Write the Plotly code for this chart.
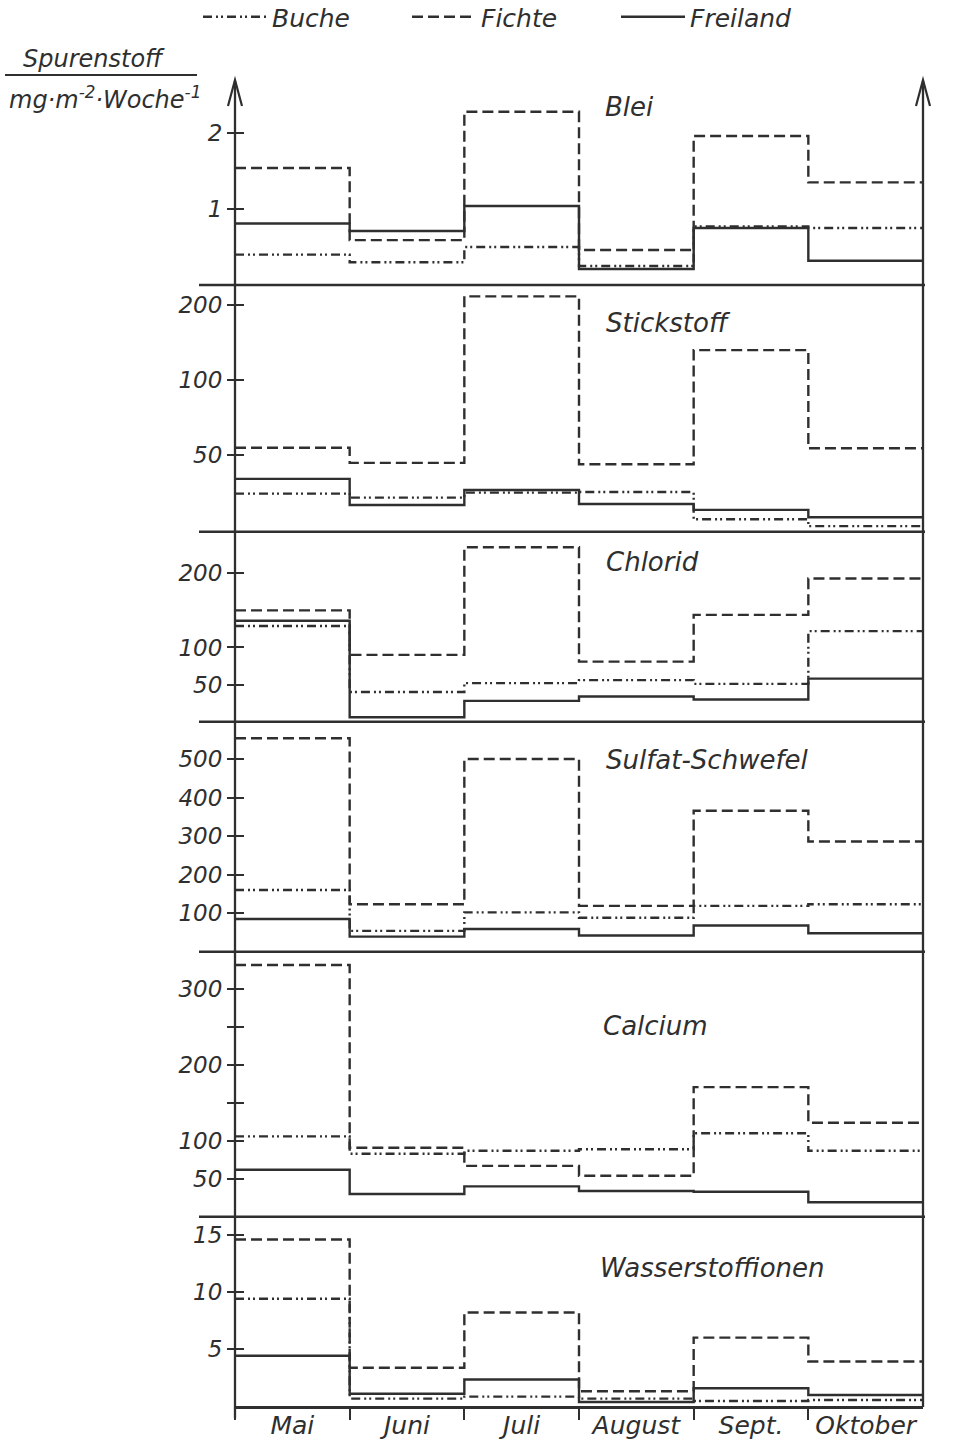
import math
import plotly.graph_objects as go

# ---------------- data ----------------
months = ["Mai", "Juni", "Juli", "August", "Sept.", "Oktober"]
series_names = ["Buche", "Fichte", "Freiland"]
panel_titles = ["Blei", "Stickstoff", "Chlorid", "Sulfat-Schwefel", "Calcium", "Wasserstoffionen"]

blei_buche = [0.40, 0.30, 0.50, 0.25, 0.77, 0.75]
blei_fichte = [1.54, 0.59, 2.28, 0.46, 1.96, 1.35]
blei_freiland = [0.81, 0.71, 1.04, 0.21, 0.75, 0.32]

stick_buche = [35.0, 33.7, 35.3, 35.5, 27.6, 25.9]
stick_fichte = [53.5, 46.5, 217, 45.9, 132, 53.2]
stick_freiland = [40.1, 31.5, 36.2, 31.8, 30.1, 28.1]

chlor_buche = [129, 40, 52, 56, 51, 122]
chlor_fichte = [150, 90, 235, 81, 144, 193]
chlor_freiland = [136, 6, 28, 34, 30, 58]

sulf_buche = [160, 54, 102, 88, 119, 123]
sulf_fichte = [554, 123, 500, 119, 366, 286]
sulf_freiland = [85, 39, 59, 42, 68, 48]

calc_buche = [106, 83, 87, 89, 110, 87]
calc_fichte = [332, 91, 67, 54, 171, 124]
calc_freiland = [62, 30, 40, 34, 33, 19]

wass_buche = [9.4, 0.65, 0.82, 0.65, 0.44, 0.52]
wass_fichte = [14.6, 3.36, 8.2, 1.3, 6.0, 3.9]
wass_freiland = [4.4, 1.08, 2.33, 0.35, 1.55, 0.96]

panel_data = [
    (blei_buche, blei_fichte, blei_freiland),
    (stick_buche, stick_fichte, stick_freiland),
    (chlor_buche, chlor_fichte, chlor_freiland),
    (sulf_buche, sulf_fichte, sulf_freiland),
    (calc_buche, calc_fichte, calc_freiland),
    (wass_buche, wass_fichte, wass_freiland),
]

tick_vals = [
    [1, 2],
    [50, 100, 200],
    [50, 100, 200],
    [100, 200, 300, 400, 500],
    [50, 100, 150, 200, 250, 300],
    [5, 10, 15],
]
tick_text = [
    ["1", "2"],
    ["50", "100", "200"],
    ["50", "100", "200"],
    ["100", "200", "300", "400", "500"],
    ["50", "100", "", "200", "", "300"],
    ["5", "10", "15"],
]
axis_types = ["linear", "log", "linear", "linear", "linear", "linear"]
axis_ranges = [
    [0, 2.632],
    [math.log10(24.6), math.log10(241)],
    [0, 256],
    [0, 597],
    [0, 349.6],
    [0, 16.6],
]

# ---------------- geometry / style ----------------
W, H = 963, 1441
INK = "#2f2f2f"
FONT = "DejaVu Sans, sans-serif"


def xp(px):
    return px / W


def yp(py):
    return 1 - py / H


X0, X1 = 235, 923
panel_px = [(85, 285), (285, 531.7), (531.7, 721.7), (721.7, 951.7),
            (951.7, 1216.7), (1216.7, 1406)]
title_px = [(603, 107), (604, 323), (604, 562), (604, 760), (601, 1026), (598, 1268)]

dashes = {"Buche": "9px,4px,2px,3px,2px,4px", "Fichte": "11px,5px", "Freiland": "solid"}

fig = go.Figure()
edges = list(range(len(months) + 1))

for i, vals3 in enumerate(panel_data):
    yname = "y" if i == 0 else f"y{i + 1}"
    for name, vals in zip(series_names, vals3):
        fig.add_trace(go.Scatter(
            x=edges, y=list(vals) + [vals[-1]],
            mode="lines", line_shape="hv",
            line=dict(color=INK, width=2.4, dash=dashes[name]),
            name=name, legendgroup=name, showlegend=(i == 0),
            xaxis="x", yaxis=yname, hoverinfo="skip",
        ))

layout = dict(
    width=W, height=H, autosize=False,
    margin=dict(l=0, r=0, t=0, b=0, autoexpand=False),
    paper_bgcolor="white", plot_bgcolor="rgba(0,0,0,0)",
    font=dict(family=FONT, color=INK, size=22, style="italic"),
    showlegend=True,
    legend=dict(orientation="h", x=xp(198), y=yp(17), xanchor="left", yanchor="middle",
                font=dict(size=25, family=FONT, style="italic", color=INK),
                entrywidth=130, entrywidthmode="pixels", bgcolor="rgba(0,0,0,0)",
                itemwidth=64, tracegroupgap=0),
    xaxis=dict(domain=[xp(X0), xp(X1)], range=[0, 6], anchor="y6",
               showgrid=False, zeroline=False, showline=True, linewidth=2.5, linecolor=INK,
               tickmode="array", tickvals=[k + 0.5 for k in range(6)], ticktext=months,
               ticks="", ticklabelstandoff=-5,
               tickfont=dict(size=25, family=FONT, style="italic", color=INK),
               minor=dict(tickmode="array", tickvals=[0, 1, 2, 3, 4, 5], ticks="outside",
                          ticklen=11, tickwidth=2, tickcolor=INK, showgrid=False)),
)

for i in range(6):
    top, bot = panel_px[i]
    key = "yaxis" if i == 0 else f"yaxis{i + 1}"
    layout[key] = dict(
        domain=[yp(bot), yp(top)], range=axis_ranges[i], type=axis_types[i],
        anchor="free", position=xp(X0 + 9), showgrid=False, zeroline=False, showline=False,
        tickmode="array", tickvals=tick_vals[i], ticktext=tick_text[i],
        ticks="outside", ticklen=17, tickwidth=2, tickcolor=INK,
        tickfont=dict(size=23, family=FONT, style="italic", color=INK),
    )

fig.update_layout(**layout)

shapes = []
# panel separator lines
for top, bot in panel_px[:-1]:
    shapes.append(dict(type="line", xref="paper", yref="paper",
                       x0=xp(199), x1=xp(925), y0=yp(bot), y1=yp(bot),
                       line=dict(color=INK, width=2.5)))
# vertical axis lines with arrow heads
shapes.append(dict(type="line", xref="paper", yref="paper",
                   x0=xp(X0), x1=xp(X0), y0=yp(1418), y1=yp(81),
                   line=dict(color=INK, width=2.3)))
shapes.append(dict(type="line", xref="paper", yref="paper",
                   x0=xp(X1), x1=xp(X1), y0=yp(1407), y1=yp(81),
                   line=dict(color=INK, width=2.3)))
for ax in (X0, X1):
    path = (f"M {xp(ax - 7):.5f},{yp(106):.5f} L {xp(ax):.5f},{yp(80):.5f} "
            f"L {xp(ax + 7):.5f},{yp(106):.5f}")
    shapes.append(dict(type="path", xref="paper", yref="paper", path=path,
                       line=dict(color=INK, width=2.2)))
# underline of the axis title
shapes.append(dict(type="line", xref="paper", yref="paper",
                   x0=xp(5), x1=xp(197), y0=yp(75), y1=yp(75),
                   line=dict(color=INK, width=2)))

annotations = []
for (tx, ty), title in zip(title_px, panel_titles):
    annotations.append(dict(x=xp(tx), y=yp(ty), xref="paper", yref="paper",
                            text=title, showarrow=False, xanchor="left", yanchor="middle",
                            font=dict(size=26, family=FONT, style="italic", color=INK)))
annotations.append(dict(x=xp(94), y=yp(59), xref="paper", yref="paper",
                        text="Spurenstoff", showarrow=False, xanchor="center", yanchor="middle",
                        font=dict(size=24, family=FONT, style="italic", color=INK)))
annotations.append(dict(x=xp(105), y=yp(98), xref="paper", yref="paper",
                        text="mg·m<sup>-2</sup>·Woche<sup>-1</sup>", showarrow=False,
                        xanchor="center", yanchor="middle",
                        font=dict(size=24, family=FONT, style="italic", color=INK)))

fig.update_layout(shapes=shapes, annotations=annotations)
fig.write_html("out.html")
